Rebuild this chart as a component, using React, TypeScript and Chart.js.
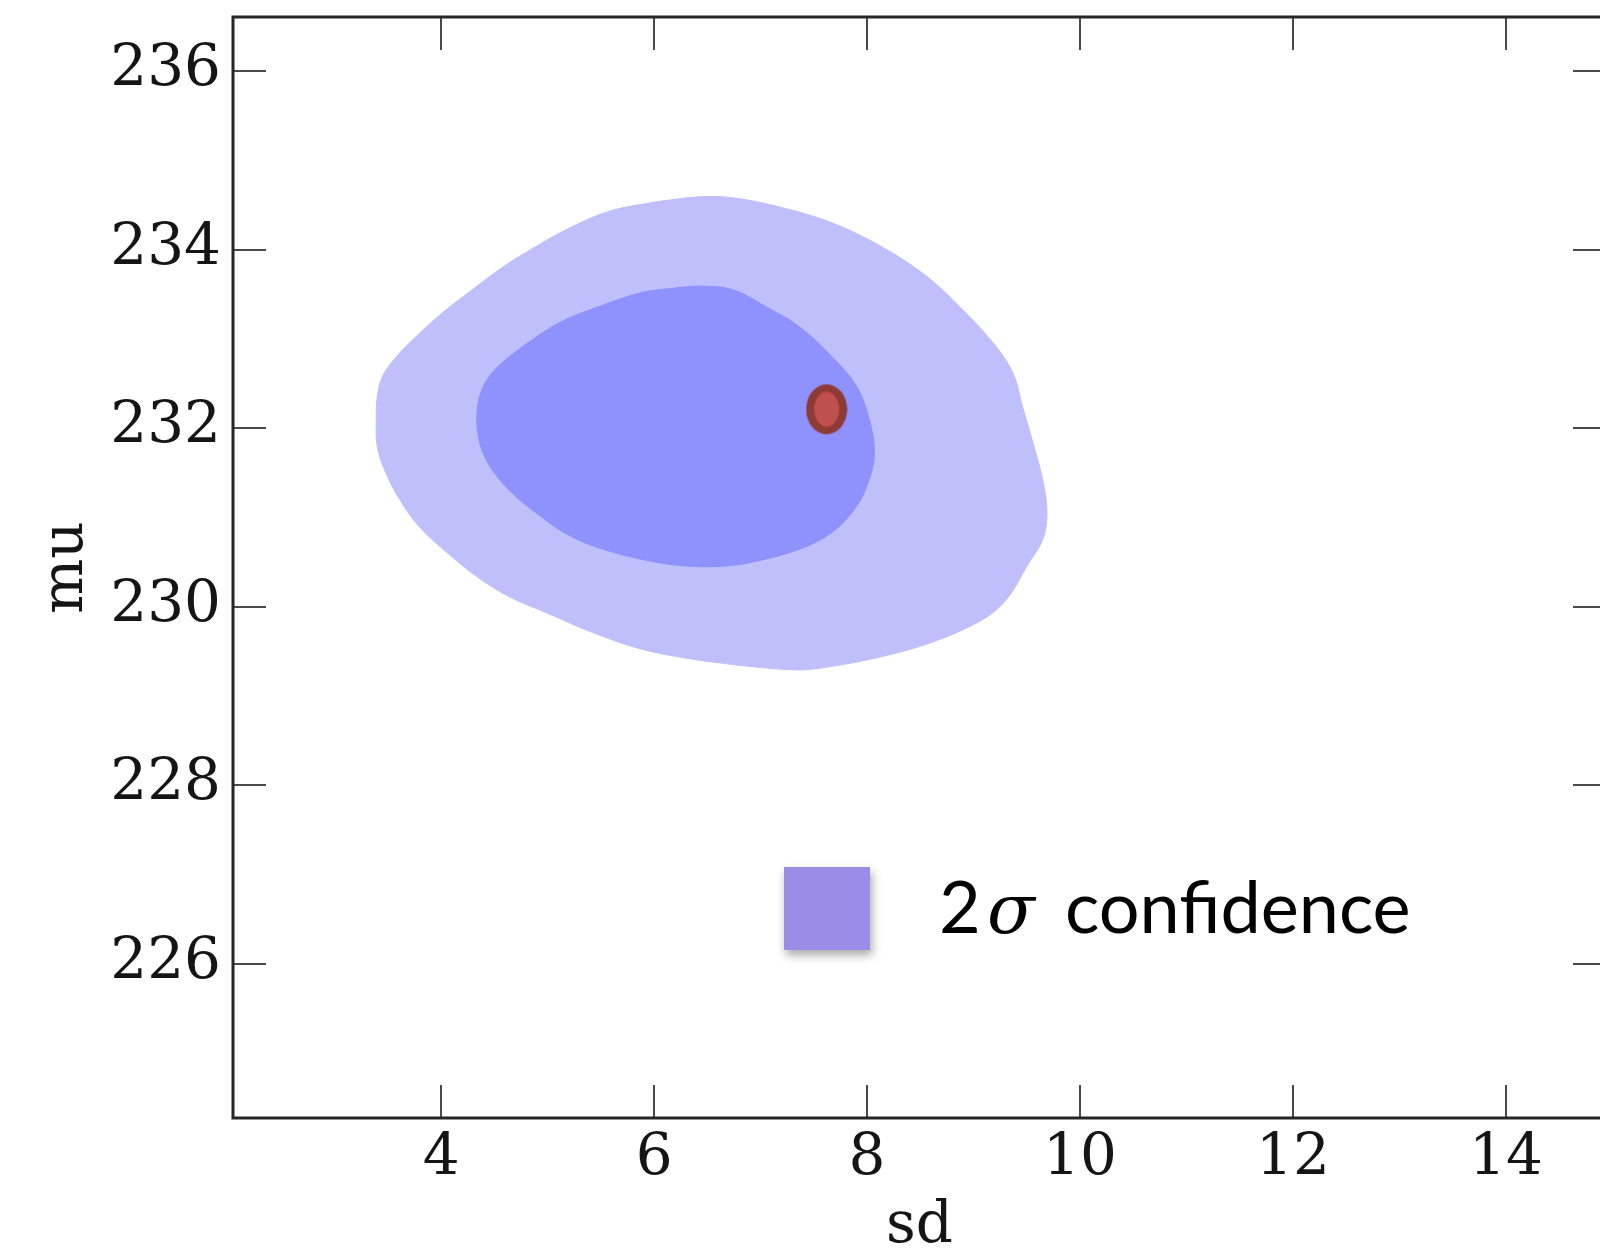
import React, { useEffect, useRef } from "react";
import { Chart, registerables } from "chart.js";

Chart.register(...registerables);

// ---- data ----
const xTicks = [4, 6, 8, 10, 12, 14];
const yTicks = [226, 228, 230, 232, 234, 236];
const xRange = [2.045, 14.94];
const yRange = [224.27, 236.605];

// 2-sigma (outer) contour
const outerSd = [6.05, 6.42, 6.74, 7.2, 7.67, 8.14, 8.56, 8.87, 9.18, 9.37, 9.46, 9.55, 9.65, 9.69, 9.65, 9.5, 9.31, 9.08, 8.61, 8.14, 7.67, 7.36, 6.89, 6.61, 6.36, 5.89, 5.42, 4.99, 4.64, 4.33, 4.05, 3.79, 3.61, 3.48, 3.4, 3.39, 3.4, 3.45, 3.58, 3.77, 4.01, 4.26, 4.55, 4.8, 5.17, 5.58, 6.05];
const outerMu = [234.54, 234.59, 234.58, 234.47, 234.3, 234.03, 233.7, 233.36, 232.96, 232.62, 232.24, 231.87, 231.42, 231.05, 230.75, 230.45, 230.08, 229.85, 229.6, 229.44, 229.33, 229.29, 229.33, 229.37, 229.41, 229.52, 229.71, 229.93, 230.11, 230.34, 230.61, 230.9, 231.2, 231.5, 231.79, 232.1, 232.35, 232.58, 232.8, 233.03, 233.29, 233.52, 233.78, 233.97, 234.22, 234.43, 234.54];

// 1-sigma (inner) contour
const innerSd = [6.21, 6.42, 6.74, 7.05, 7.36, 7.67, 7.9, 8.02, 8.07, 8.02, 7.9, 7.67, 7.36, 6.89, 6.61, 6.36, 6.05, 5.61, 5.23, 4.89, 4.61, 4.42, 4.34, 4.36, 4.48, 4.73, 5.11, 5.48, 5.89, 6.21];
const innerMu = [233.57, 233.59, 233.55, 233.36, 233.14, 232.8, 232.47, 232.1, 231.73, 231.42, 231.12, 230.83, 230.64, 230.49, 230.45, 230.45, 230.49, 230.61, 230.78, 231.05, 231.34, 231.65, 231.98, 232.35, 232.62, 232.88, 233.18, 233.36, 233.52, 233.57];

// best-fit point
const bestSd = [7.62];
const bestMu = [232.21];

const xTitle = "sd";
const yTitle = "mu";
const legendParts = ["2", "σ", "confidence"];

// ---- styles ----
const OUTER_COLOR = "rgb(191,191,252)";
const INNER_COLOR = "rgb(143,145,253)";
const LEGEND_COLOR = "rgb(155,141,231)";
const SERIF = "'DejaVu Serif', serif";
const TICK_SIZE = 58;

function toPoints(xs: number[], ys: number[]) {
  return xs.map((x, i) => ({ x, y: ys[i] }));
}

function makeEllipse(): HTMLCanvasElement {
  const c = document.createElement("canvas");
  c.width = 42;
  c.height = 52;
  const g = c.getContext("2d")!;
  g.fillStyle = "#8E3B36";
  g.beginPath();
  g.ellipse(21, 26, 20.5, 25, 0, 0, Math.PI * 2);
  g.fill();
  g.fillStyle = "#C0504D";
  g.beginPath();
  g.ellipse(21, 26, 12.5, 17.5, 0, 0, Math.PI * 2);
  g.fill();
  return c;
}

const framePlugin = {
  id: "frameTicks",
  afterDatasetsDraw(chart: any) {
    const { ctx, chartArea: a, scales } = chart;
    const xs = scales.x;
    const ys = scales.y;
    const len = 33;
    ctx.save();
    ctx.strokeStyle = "#4a4a4a";
    ctx.lineWidth = 2;
    ctx.beginPath();
    for (const v of xTicks) {
      const p = Math.round(xs.getPixelForValue(v));
      ctx.moveTo(p, a.bottom);
      ctx.lineTo(p, a.bottom - len);
      ctx.moveTo(p, a.top);
      ctx.lineTo(p, a.top + len);
    }
    for (const v of yTicks) {
      const p = Math.round(ys.getPixelForValue(v));
      ctx.moveTo(a.left, p);
      ctx.lineTo(a.left + len, p);
      ctx.moveTo(a.right, p);
      ctx.lineTo(a.right - len, p);
    }
    ctx.stroke();
    ctx.strokeStyle = "#262626";
    ctx.lineWidth = 3;
    ctx.strokeRect(a.left, a.top, a.right - a.left, a.bottom - a.top);
    ctx.restore();
  },
};

const legendPlugin = {
  id: "sigmaLegend",
  afterDraw(chart: any) {
    const { ctx } = chart;
    ctx.save();
    ctx.shadowColor = "rgba(0,0,0,0.35)";
    ctx.shadowBlur = 9;
    ctx.shadowOffsetX = 2;
    ctx.shadowOffsetY = 5;
    ctx.fillStyle = LEGEND_COLOR;
    ctx.fillRect(784, 867, 86, 83);
    ctx.restore();

    ctx.save();
    ctx.fillStyle = "#000";
    ctx.textBaseline = "alphabetic";
    ctx.textAlign = "left";
    ctx.font = "72px Lato, 'Open Sans', sans-serif";
    ctx.fillText(legendParts[0], 939, 933);
    ctx.font = "italic 70px 'DejaVu Serif', serif";
    ctx.fillText(legendParts[1], 987, 933);
    ctx.font = "72px Lato, 'Open Sans', sans-serif";
    ctx.fillText(legendParts[2], 1065, 933);
    ctx.restore();
  },
};

function zeroPad(s: any) {
  s.paddingTop = 0;
  s.paddingBottom = 0;
  s.paddingLeft = 0;
  s.paddingRight = 0;
}

export default function App() {
  const ref = useRef<HTMLCanvasElement | null>(null);

  useEffect(() => {
    if (!ref.current) return;
    const chart = new Chart(ref.current, {
      type: "line",
      data: {
        datasets: [
          {
            label: "best",
            data: toPoints(bestSd, bestMu),
            showLine: false,
            pointStyle: makeEllipse() as any,
            pointRadius: 25,
            order: 0,
          } as any,
          {
            label: "1 sigma",
            data: toPoints(innerSd, innerMu),
            borderColor: INNER_COLOR,
            backgroundColor: INNER_COLOR,
            borderWidth: 1,
            pointRadius: 0,
            tension: 0.35,
            fill: "shape",
            order: 1,
          },
          {
            label: "2 sigma",
            data: toPoints(outerSd, outerMu),
            borderColor: OUTER_COLOR,
            backgroundColor: OUTER_COLOR,
            borderWidth: 1,
            pointRadius: 0,
            tension: 0.35,
            fill: "shape",
            order: 2,
          },
        ],
      },
      options: {
        animation: false,
        responsive: false,
        maintainAspectRatio: false,
        layout: { autoPadding: false, padding: { left: 0, top: 17, right: 14, bottom: 0 } },
        plugins: { legend: { display: false }, tooltip: { enabled: false } },
        scales: {
          x: {
            type: "linear",
            min: xRange[0],
            max: xRange[1],
            grid: { display: false, drawTicks: false },
            border: { display: false },
            afterBuildTicks: (s: any) => {
              s.ticks = xTicks.map((v) => ({ value: v }));
            },
            afterFit: (s: any) => {
              s.height = 132;
              zeroPad(s);
            },
            ticks: {
              padding: 12,
              maxRotation: 0,
              color: "#151515",
              font: { family: SERIF, size: TICK_SIZE, lineHeight: 1 },
              callback: (v: any) => String(v),
            },
            title: {
              display: true,
              text: xTitle,
              color: "#151515",
              font: { family: SERIF, size: TICK_SIZE, lineHeight: 0.8 },
              padding: { top: 0, bottom: 0 },
            },
          },
          y: {
            type: "linear",
            min: yRange[0],
            max: yRange[1],
            grid: { display: false, drawTicks: false },
            border: { display: false },
            afterBuildTicks: (s: any) => {
              s.ticks = yTicks.map((v) => ({ value: v }));
            },
            afterFit: (s: any) => {
              s.width = 233;
              zeroPad(s);
            },
            ticks: {
              padding: 12,
              labelOffset: -1,
              color: "#151515",
              font: { family: SERIF, size: TICK_SIZE, lineHeight: 1 },
              callback: (v: any) => String(v),
            },
            title: {
              display: true,
              text: yTitle,
              color: "#151515",
              font: { family: SERIF, size: TICK_SIZE, lineHeight: 1 },
              padding: { top: 38, bottom: 0 },
            },
          },
        },
      } as any,
      plugins: [framePlugin, legendPlugin],
    });
    return () => chart.destroy();
  }, []);

  return (
    <div
      style={{
        position: "absolute",
        left: 0,
        top: 0,
        width: 1600,
        height: 1250,
        overflow: "hidden",
        background: "#fff",
      }}
    >
      <canvas ref={ref} width={1620} height={1250} style={{ width: 1620, height: 1250, display: "block" }} />
    </div>
  );
}
